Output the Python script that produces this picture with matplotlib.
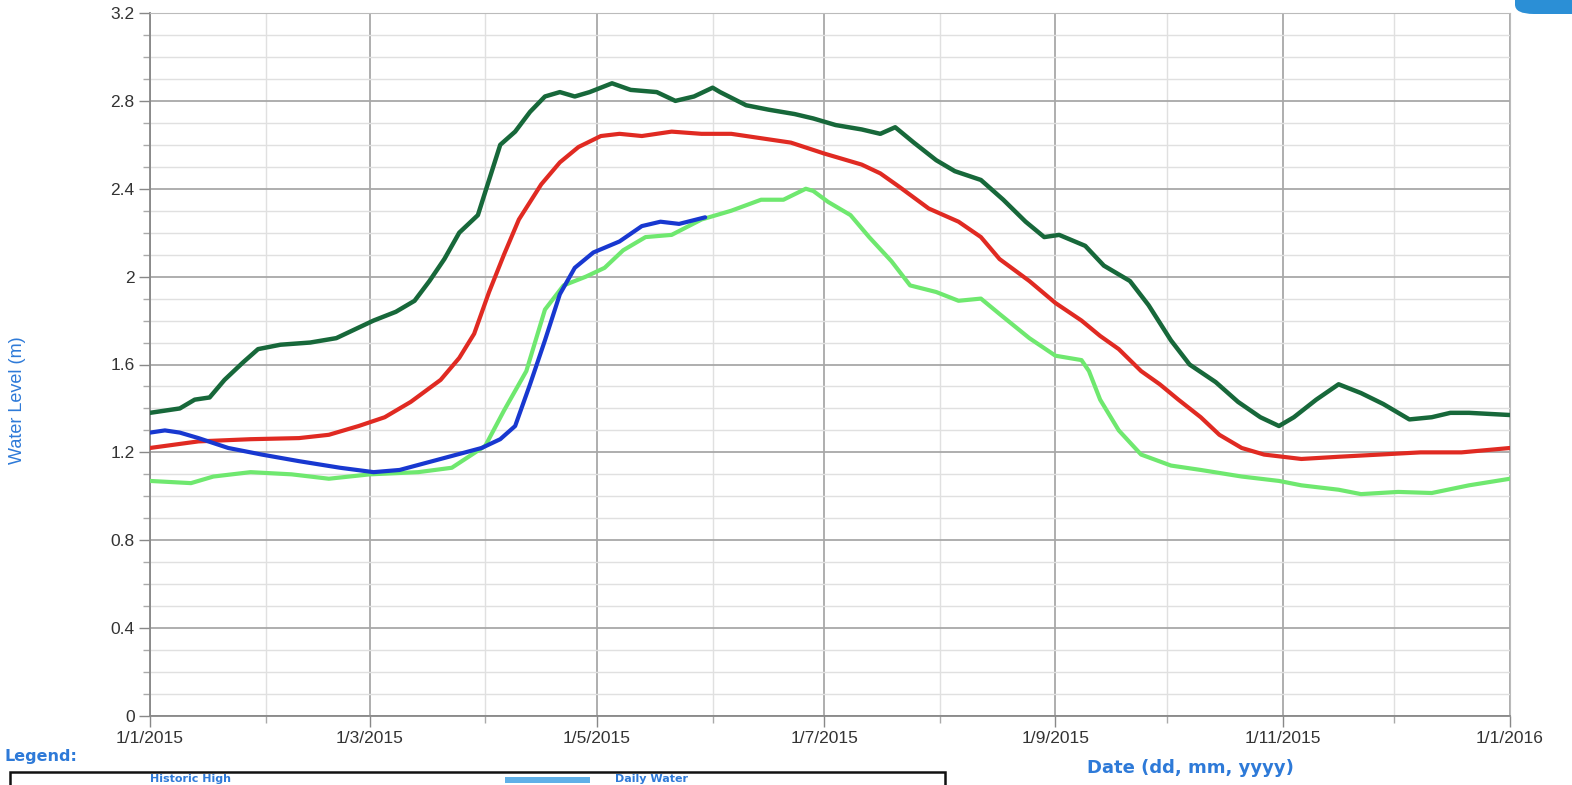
import matplotlib
matplotlib.use("Agg")
import matplotlib.pyplot as plt
from matplotlib.patches import FancyBboxPatch, Rectangle
import pandas as pd
import numpy as np

# ---- data (day offsets from 1 Jan 2015, water level in m) ----
dark_days = [0, 8, 12, 16, 20, 25, 29, 35, 43, 50, 55, 60, 66, 71, 75, 79, 83, 88, 91, 94, 98,
             102, 106, 110, 114, 118, 124, 129, 136, 141, 146, 151, 153, 160, 166, 173, 178, 184,
             191, 196, 200, 205, 211, 216, 223, 229, 235, 240, 244, 251, 256, 263, 268, 274, 279,
             286, 292, 298, 303, 307, 313, 319, 325, 331, 338, 344, 349, 354, 365]
dark_vals = [1.38, 1.40, 1.44, 1.45, 1.53, 1.61, 1.67, 1.69, 1.70, 1.72, 1.76, 1.80, 1.84, 1.89,
             1.98, 2.08, 2.20, 2.28, 2.44, 2.60, 2.66, 2.75, 2.82, 2.84, 2.82, 2.84, 2.88, 2.85,
             2.84, 2.80, 2.82, 2.86, 2.84, 2.78, 2.76, 2.74, 2.72, 2.69, 2.67, 2.65, 2.68, 2.61,
             2.53, 2.48, 2.44, 2.35, 2.25, 2.18, 2.19, 2.14, 2.05, 1.98, 1.87, 1.71, 1.60, 1.52,
             1.43, 1.36, 1.32, 1.36, 1.44, 1.51, 1.47, 1.42, 1.35, 1.36, 1.38, 1.38, 1.37]

red_days = [0, 13, 27, 40, 48, 56, 63, 70, 78, 83, 87, 91, 95, 99, 105, 110, 115, 121, 126, 132,
            140, 148, 156, 164, 172, 181, 191, 196, 201, 209, 217, 223, 228, 236, 243, 250, 255,
            260, 266, 271, 276, 282, 287, 293, 299, 309, 319, 330, 341, 352, 365]
red_vals = [1.22, 1.25, 1.26, 1.265, 1.28, 1.32, 1.36, 1.43, 1.53, 1.63, 1.74, 1.93, 2.10, 2.26,
            2.42, 2.52, 2.59, 2.64, 2.65, 2.64, 2.66, 2.65, 2.65, 2.63, 2.61, 2.56, 2.51, 2.47,
            2.41, 2.31, 2.25, 2.18, 2.08, 1.98, 1.88, 1.80, 1.73, 1.67, 1.57, 1.51, 1.44, 1.36,
            1.28, 1.22, 1.19, 1.17, 1.18, 1.19, 1.20, 1.20, 1.22]

blue_days = [0, 4, 8, 13, 21, 30, 40, 51, 60, 67, 78, 89, 94, 98, 102, 106, 110, 114, 119, 126,
             132, 137, 142, 149]
blue_vals = [1.29, 1.30, 1.29, 1.265, 1.22, 1.19, 1.16, 1.13, 1.11, 1.12, 1.17, 1.22, 1.26, 1.32,
             1.51, 1.71, 1.92, 2.04, 2.11, 2.16, 2.23, 2.25, 2.24, 2.27]

light_days = [0, 11, 17, 27, 38, 48, 59, 72, 81, 90, 95, 101, 106, 111, 117, 122, 127, 133, 140,
              148, 156, 164, 170, 176, 178, 182, 188, 193, 199, 204, 211, 217, 223, 228, 236, 243,
              250, 252, 255, 260, 266, 274, 282, 293, 303, 309, 319, 325, 335, 344, 354, 365]
light_vals = [1.07, 1.06, 1.09, 1.11, 1.10, 1.08, 1.10, 1.11, 1.13, 1.23, 1.39, 1.57, 1.85, 1.96,
              2.00, 2.04, 2.12, 2.18, 2.19, 2.26, 2.30, 2.35, 2.35, 2.40, 2.39, 2.34, 2.28, 2.18,
              2.07, 1.96, 1.93, 1.89, 1.90, 1.83, 1.72, 1.64, 1.62, 1.57, 1.44, 1.30, 1.19, 1.14,
              1.12, 1.09, 1.07, 1.05, 1.03, 1.01, 1.02, 1.015, 1.05, 1.08]

tick_labels = ["1/1/2015", "1/3/2015", "1/5/2015", "1/7/2015", "1/9/2015", "1/11/2015", "1/1/2016"]
tick_dates = ["2015-01-01", "2015-03-01", "2015-05-01", "2015-07-01", "2015-09-01", "2015-11-01", "2016-01-01"]
minor_dates = ["2015-02-01", "2015-04-01", "2015-06-01", "2015-08-01", "2015-10-01", "2015-12-01"]
legend_names = ["Historic High", "Daily Water"]

start = pd.Timestamp("2015-01-01")
def to_dates(d):
    return start + pd.to_timedelta(np.array(d, dtype=float), unit="D")

fig = plt.figure(figsize=(15.72, 7.85), dpi=100)
ax = fig.add_axes([150/1572, 1-716/785, 1360/1572, 703/785])

kw = dict(solid_capstyle="round", solid_joinstyle="round")
ax.plot(to_dates(light_days), light_vals, color="#6fe86f", lw=3.0, zorder=3, **kw)
ax.plot(to_dates(red_days), red_vals, color="#e02a22", lw=3.0, zorder=4, **kw)
ax.plot(to_dates(blue_days), blue_vals, color="#1838d0", lw=3.0, zorder=5, **kw)
ax.plot(to_dates(dark_days), dark_vals, color="#17683a", lw=3.2, zorder=6, **kw)

ax.set_xlim(pd.Timestamp("2015-01-01"), pd.Timestamp("2016-01-01"))
ax.set_ylim(0, 3.2)
ax.set_xticks(pd.to_datetime(tick_dates))
ax.set_xticklabels(tick_labels)
ax.set_xticks(pd.to_datetime(minor_dates), minor=True)
ax.set_yticks(np.arange(0, 3.21, 0.4))
ax.set_yticklabels(["0", "0.4", "0.8", "1.2", "1.6", "2", "2.4", "2.8", "3.2"])
ax.set_yticks(np.arange(0, 3.21, 0.1), minor=True)

ax.grid(which="major", color="#a8a8a8", lw=1.3)
ax.grid(which="minor", color="#e0e0e0", lw=1.0)
ax.set_axisbelow(True)
for s in ["left", "bottom"]:
    ax.spines[s].set_color("#888888")
    ax.spines[s].set_linewidth(1.3)
for s in ["top", "right"]:
    ax.spines[s].set_color("#bbbbbb")
ax.tick_params(axis="both", which="major", direction="out", length=8, width=1.0, color="#888888",
               labelsize=12.5, labelcolor="#333333", pad=3)
ax.tick_params(axis="both", which="minor", direction="out", length=5, width=1.0, color="#aaaaaa")
for lab in ax.get_xticklabels() + ax.get_yticklabels():
    lab.set_fontfamily("Liberation Sans")

fig.text(18/1572, 1-400/785, "Water Level (m)", rotation=90, ha="center", va="center",
         color="#2e7ad8", fontsize=13, fontfamily="Liberation Sans")
fig.text(1190/1572, 1-768/785, "Date (dd, mm, yyyy)", ha="center", va="center",
         color="#2e7ad8", fontsize=13, fontweight="bold", fontfamily="DejaVu Sans")
fig.text(4/1572, 1-757/785, "Legend:", ha="left", va="center",
         color="#2e7ad8", fontsize=11.5, fontweight="bold", fontfamily="DejaVu Sans")

# legend box (cut off at bottom like the reference)
fig.patches.append(Rectangle((10/1572, -0.05), 935/1572, 0.05 + (785-772)/785, transform=fig.transFigure,
                             fill=False, edgecolor="#111111", lw=1.8))
fig.text(150/1572, 1-779/785, legend_names[0], ha="left", va="center", color="#2e7ad8",
         fontsize=8, fontweight="bold")
fig.patches.append(Rectangle((505/1572, 1-783/785), 85/1572, 6/785, transform=fig.transFigure,
                             facecolor="#5fb0e8", edgecolor="none"))
fig.text(615/1572, 1-779/785, legend_names[1], ha="left", va="center", color="#2e7ad8",
         fontsize=8, fontweight="bold")

# blue button corner top-right
fig.patches.append(FancyBboxPatch((1515/1572, 1-14/785), 80/1572, 30/785,
                                  boxstyle="round,pad=0,rounding_size=0.012", transform=fig.transFigure,
                                  facecolor="#2b8fd6", edgecolor="none"))

fig.savefig("out.png", dpi=100)
